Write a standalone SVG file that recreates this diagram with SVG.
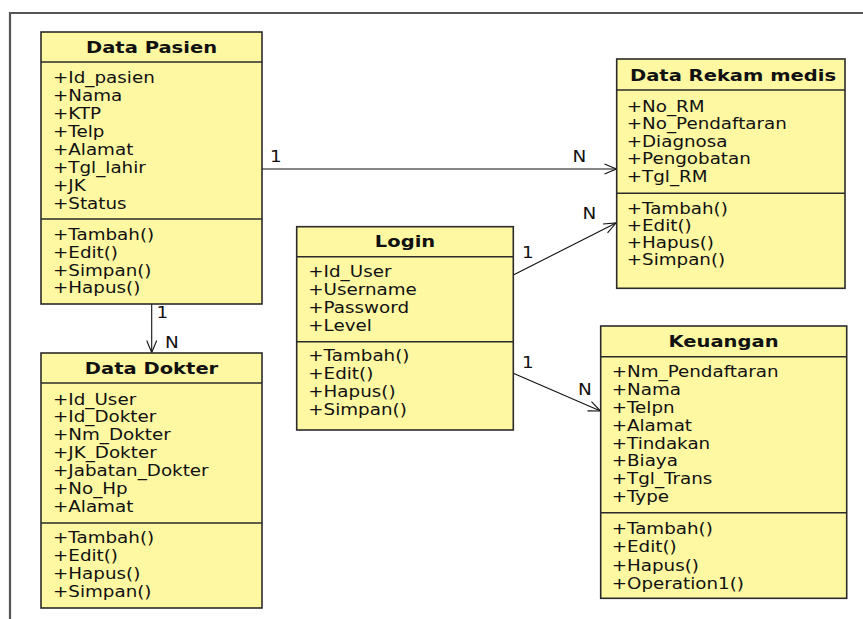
<svg xmlns="http://www.w3.org/2000/svg" width="863" height="619" viewBox="0 0 863 619">
<style>
.box{fill:#FEF8A2;stroke:#2b2b2b;stroke-width:1.6}
.div{stroke:#2b2b2b;stroke-width:1.6}
.t{font-family:"DejaVu Sans","Verdana",sans-serif;font-size:15px;fill:#111}
.h{font-family:"DejaVu Sans","Verdana",sans-serif;font-size:15.5px;font-weight:bold;fill:#111;text-anchor:middle}
.con{stroke:#111;stroke-width:1.1;fill:none;marker-end:url(#open)}
.lbl{font-family:"DejaVu Sans","Verdana",sans-serif;font-size:16px;fill:#111}
</style>
<defs>
<marker id="open" markerUnits="userSpaceOnUse" markerWidth="16" markerHeight="14" viewBox="-14 -7 16 14" refX="0" refY="0" orient="auto">
<path d="M-12,-5 L0,0 L-12,5" fill="none" stroke="#111" stroke-width="1.1"/>
</marker>
</defs>
<rect x="0" y="0" width="863" height="619" fill="#ffffff"/>
<path d="M10,619 L10,13 L863,13" fill="none" stroke="#555" stroke-width="2.2"/>

<g id="connectors">
<line class="con" x1="262" y1="169" x2="616.5" y2="169"/>
<line class="con" x1="151.7" y1="304" x2="151.7" y2="352.5"/>
<line class="con" x1="513.3" y1="275" x2="616" y2="223"/>
<line class="con" x1="513.3" y1="373.3" x2="600.5" y2="411"/>
<g transform="translate(270 0) scale(1.15 1)"><text class="lbl" x="0" y="162.5">1</text></g>
<g transform="translate(572.5 0) scale(1.15 1)"><text class="lbl" x="0" y="162.5">N</text></g>
<g transform="translate(156.5 0) scale(1.15 1)"><text class="lbl" x="0" y="318.5">1</text></g>
<g transform="translate(165 0) scale(1.15 1)"><text class="lbl" x="0" y="348.5">N</text></g>
<g transform="translate(522 0) scale(1.15 1)"><text class="lbl" x="0" y="258.5">1</text></g>
<g transform="translate(582.5 0) scale(1.15 1)"><text class="lbl" x="0" y="219.5">N</text></g>
<g transform="translate(522 0) scale(1.15 1)"><text class="lbl" x="0" y="368.5">1</text></g>
<g transform="translate(578 0) scale(1.15 1)"><text class="lbl" x="0" y="395.5">N</text></g>
</g>

<g id="data-pasien">
<rect class="box" x="41" y="32" width="221" height="272"/>
<line class="div" x1="41" y1="62" x2="262" y2="62"/>
<line class="div" x1="41" y1="219" x2="262" y2="219"/>
<g transform="translate(151.5 0) scale(1.26 1)"><text class="h" x="0" y="52.8">Data Pasien</text></g>
<g transform="translate(53 0) scale(1.22 1)">
<text class="t" x="0" y="83.3">+Id_pasien</text>
<text class="t" x="0" y="101.2">+Nama</text>
<text class="t" x="0" y="119.1">+KTP</text>
<text class="t" x="0" y="137">+Telp</text>
<text class="t" x="0" y="154.9">+Alamat</text>
<text class="t" x="0" y="172.8">+Tgl_lahir</text>
<text class="t" x="0" y="190.7">+JK</text>
<text class="t" x="0" y="208.6">+Status</text>
<text class="t" x="0" y="240.3">+Tambah()</text>
<text class="t" x="0" y="258">+Edit()</text>
<text class="t" x="0" y="275.7">+Simpan()</text>
<text class="t" x="0" y="293.4">+Hapus()</text>
</g>
</g>

<g id="data-dokter">
<rect class="box" x="41" y="353" width="221" height="255"/>
<line class="div" x1="41" y1="383" x2="262" y2="383"/>
<line class="div" x1="41" y1="523" x2="262" y2="523"/>
<g transform="translate(151.5 0) scale(1.26 1)"><text class="h" x="0" y="373.8">Data Dokter</text></g>
<g transform="translate(53 0) scale(1.22 1)">
<text class="t" x="0" y="404.6">+Id_User</text>
<text class="t" x="0" y="422.5">+Id_Dokter</text>
<text class="t" x="0" y="440.4">+Nm_Dokter</text>
<text class="t" x="0" y="458.3">+JK_Dokter</text>
<text class="t" x="0" y="476.2">+Jabatan_Dokter</text>
<text class="t" x="0" y="494.1">+No_Hp</text>
<text class="t" x="0" y="512">+Alamat</text>
<text class="t" x="0" y="542.8">+Tambah()</text>
<text class="t" x="0" y="561">+Edit()</text>
<text class="t" x="0" y="579.2">+Hapus()</text>
<text class="t" x="0" y="597.4">+Simpan()</text>
</g>
</g>

<g id="login">
<rect class="box" x="296.7" y="226.7" width="216.6" height="203.3"/>
<line class="div" x1="296.7" y1="256.7" x2="513.3" y2="256.7"/>
<line class="div" x1="296.7" y1="341.7" x2="513.3" y2="341.7"/>
<g transform="translate(405 0) scale(1.26 1)"><text class="h" x="0" y="247.3">Login</text></g>
<g transform="translate(308.3 0) scale(1.22 1)">
<text class="t" x="0" y="277">+Id_User</text>
<text class="t" x="0" y="295">+Username</text>
<text class="t" x="0" y="313">+Password</text>
<text class="t" x="0" y="331">+Level</text>
<text class="t" x="0" y="361">+Tambah()</text>
<text class="t" x="0" y="379.1">+Edit()</text>
<text class="t" x="0" y="397.2">+Hapus()</text>
<text class="t" x="0" y="415.3">+Simpan()</text>
</g>
</g>

<g id="data-rekam-medis">
<rect class="box" x="616.7" y="59" width="228.3" height="229.3"/>
<line class="div" x1="616.7" y1="90" x2="845" y2="90"/>
<line class="div" x1="616.7" y1="193.3" x2="845" y2="193.3"/>
<g transform="translate(733 0) scale(1.26 1)"><text class="h" x="0" y="80.8">Data Rekam medis</text></g>
<g transform="translate(626.7 0) scale(1.22 1)">
<text class="t" x="0" y="112">+No_RM</text>
<text class="t" x="0" y="129.5">+No_Pendaftaran</text>
<text class="t" x="0" y="147">+Diagnosa</text>
<text class="t" x="0" y="164.5">+Pengobatan</text>
<text class="t" x="0" y="182">+Tgl_RM</text>
<text class="t" x="0" y="213.6">+Tambah()</text>
<text class="t" x="0" y="230.9">+Edit()</text>
<text class="t" x="0" y="248.2">+Hapus()</text>
<text class="t" x="0" y="265.5">+Simpan()</text>
</g>
</g>

<g id="keuangan">
<rect class="box" x="600.7" y="326" width="246" height="272.3"/>
<line class="div" x1="600.7" y1="356.7" x2="846.7" y2="356.7"/>
<line class="div" x1="600.7" y1="512.7" x2="846.7" y2="512.7"/>
<g transform="translate(723.5 0) scale(1.26 1)"><text class="h" x="0" y="347.3">Keuangan</text></g>
<g transform="translate(611.7 0) scale(1.22 1)">
<text class="t" x="0" y="377">+Nm_Pendaftaran</text>
<text class="t" x="0" y="394.9">+Nama</text>
<text class="t" x="0" y="412.8">+Telpn</text>
<text class="t" x="0" y="430.7">+Alamat</text>
<text class="t" x="0" y="448.6">+Tindakan</text>
<text class="t" x="0" y="466.5">+Biaya</text>
<text class="t" x="0" y="484.4">+Tgl_Trans</text>
<text class="t" x="0" y="502.3">+Type</text>
<text class="t" x="0" y="533.6">+Tambah()</text>
<text class="t" x="0" y="552.1">+Edit()</text>
<text class="t" x="0" y="570.6">+Hapus()</text>
<text class="t" x="0" y="589.1">+Operation1()</text>
</g>
</g>
</svg>
